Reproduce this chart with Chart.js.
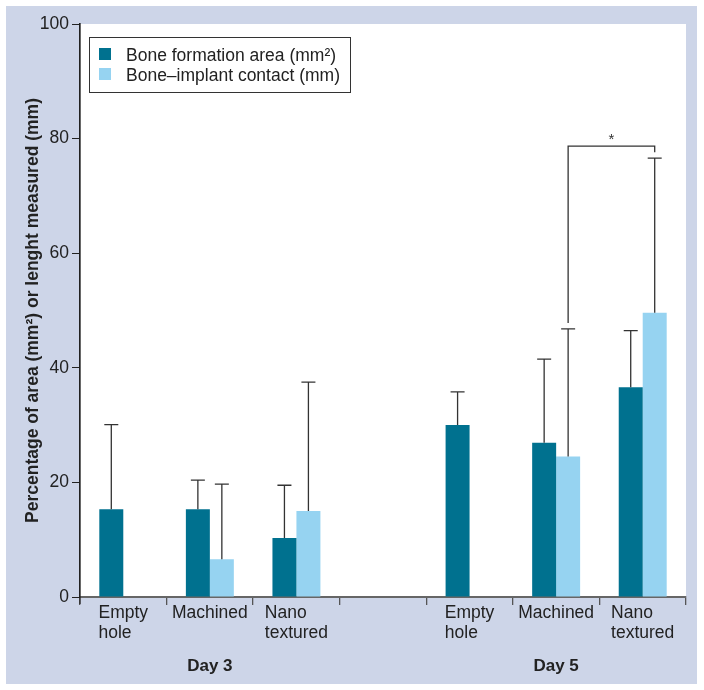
<!DOCTYPE html>
<html>
<head>
<meta charset="utf-8">
<script src="https://cdn.jsdelivr.net/npm/chart.js@4.4.1/dist/chart.umd.min.js"></script>
<style>
  html, body { margin: 0; padding: 0; background: #fff; }
  #wrap { width: 704px; height: 690px; }
</style>
</head>
<body>
<div id="wrap"><canvas id="chart" width="704" height="690"></canvas></div>
<script>
// Data
const categories = [['Empty', 'hole'], ['Machined'], ['Nano', 'textured'], [''], ['Empty', 'hole'], ['Machined'], ['Nano', 'textured']];
const dayLabels = ['Day 3', 'Day 5'];
const dayCenters = [1, 5];

const boneArea = [15.3, 15.3, 10.3, null, 30.0, 26.9, 36.6];
const boneAreaErr = [30.1, 20.4, 19.5, null, 35.8, 41.5, 46.5];
const contact = [null, 6.6, 15.0, null, null, 24.5, 49.6];
const contactErr = [null, 19.7, 37.5, null, null, 46.8, 76.6];

// significance bracket: between contact bars of these categories
const sigPair = [5, 6];
const sigLevel = 78.7;

const darkTeal = '#00718f';
const lightBlue = '#96d3f1';
const panelBg = '#cdd5e8';
const FONT = '"Liberation Sans", Arial, Helvetica, sans-serif';

// Background panel and white plot area
const backdrop = {
  id: 'backdrop',
  beforeDraw(chart) {
    const { ctx, chartArea: a } = chart;
    ctx.save();
    ctx.fillStyle = '#fff';
    ctx.fillRect(0, 0, chart.width, chart.height);
    ctx.fillStyle = panelBg;
    ctx.fillRect(6, 6, 691, 678);
    ctx.fillStyle = '#fff';
    ctx.fillRect(a.left, a.top, a.right - a.left, a.bottom - a.top);
    ctx.restore();
  }
};

// Upward error bars plus the significance bracket
const errorBars = {
  id: 'errorBars',
  afterDatasetsDraw(chart) {
    const { ctx } = chart;
    const y = chart.scales.y;
    const errs = [boneAreaErr, contactErr];
    ctx.save();
    ctx.strokeStyle = '#333';
    ctx.lineWidth = 1.3;
    errs.forEach((err, d) => {
      const meta = chart.getDatasetMeta(d);
      err.forEach((v, i) => {
        if (v == null) return;
        const bar = meta.data[i];
        const top = y.getPixelForValue(v);
        ctx.beginPath();
        ctx.moveTo(bar.x, bar.y);
        ctx.lineTo(bar.x, top);
        ctx.moveTo(bar.x - 7, top);
        ctx.lineTo(bar.x + 7, top);
        ctx.stroke();
      });
    });

    const meta = chart.getDatasetMeta(1);
    const x1 = meta.data[sigPair[0]].x;
    const x2 = meta.data[sigPair[1]].x;
    const yb = y.getPixelForValue(sigLevel);
    ctx.beginPath();
    ctx.moveTo(x1, y.getPixelForValue(contactErr[sigPair[0]] + 1));
    ctx.lineTo(x1, yb);
    ctx.lineTo(x2, yb);
    ctx.lineTo(x2, y.getPixelForValue(contactErr[sigPair[1]] + 1));
    ctx.stroke();
    ctx.fillStyle = '#333';
    ctx.font = '15px ' + FONT;
    ctx.textAlign = 'center';
    ctx.textBaseline = 'alphabetic';
    ctx.fillText('*', (x1 + x2) / 2, yb - 2);
    ctx.restore();
  }
};

// Category labels (left-aligned blocks), day labels, legend box
const decorations = {
  id: 'decorations',
  afterDraw(chart) {
    const { ctx, chartArea: a } = chart;
    const x = chart.scales.x;
    ctx.save();
    ctx.fillStyle = '#222';
    ctx.textBaseline = 'alphabetic';
    ctx.font = '17.5px ' + FONT;
    ctx.textAlign = 'left';
    categories.forEach((lines, i) => {
      const xc = x.getPixelForValue(i);
      const w = Math.max(...lines.map(l => ctx.measureText(l).width));
      lines.forEach((l, k) => ctx.fillText(l, xc - w / 2, 618 + k * 20));
    });
    ctx.font = 'bold 17px ' + FONT;
    ctx.textAlign = 'center';
    dayLabels.forEach((t, k) => ctx.fillText(t, x.getPixelForValue(dayCenters[k]), 671));

    // y-axis line running a little below zero
    ctx.strokeStyle = '#222';
    ctx.lineWidth = 1.2;
    ctx.beginPath();
    ctx.moveTo(a.left, a.top - 1);
    ctx.lineTo(a.left, a.bottom + 7);
    ctx.stroke();

    // legend
    const lx = a.left + 9, ly = a.top + 13;
    ctx.fillStyle = '#fff';
    ctx.fillRect(lx, ly, 261, 55);
    ctx.strokeStyle = '#333';
    ctx.lineWidth = 1;
    ctx.strokeRect(lx + 0.5, ly + 0.5, 261, 55);
    chart.data.datasets.forEach((ds, k) => {
      ctx.fillStyle = ds.backgroundColor;
      ctx.fillRect(lx + 10, ly + 11 + k * 20, 12, 12);
      ctx.fillStyle = '#222';
      ctx.font = '17.5px ' + FONT;
      ctx.textAlign = 'left';
      ctx.fillText(ds.label, lx + 37, ly + 24 + k * 20);
    });
    ctx.restore();
  }
};

new Chart(document.getElementById('chart').getContext('2d'), {
  type: 'bar',
  data: {
    labels: categories.map(c => c.join(' ')),
    datasets: [
      { label: 'Bone formation area (mm²)', data: boneArea, backgroundColor: darkTeal },
      { label: 'Bone–implant contact (mm)', data: contact, backgroundColor: lightBlue }
    ]
  },
  options: {
    responsive: false,
    devicePixelRatio: 1,
    animation: false,
    categoryPercentage: 0.554,
    barPercentage: 1,
    layout: { padding: { left: 0, top: 24, right: 18, bottom: 0 } },
    plugins: {
      legend: { display: false },
      tooltip: { enabled: false }
    },
    scales: {
      x: {
        afterFit: s => { s.height = 93; },
        ticks: { display: false },
        grid: { offset: true, drawOnChartArea: false, tickLength: 8, color: '#555', lineWidth: 1.3 },
        border: { color: '#666', width: 2 }
      },
      y: {
        min: 0,
        max: 100,
        afterFit: s => { s.width = 80; },
        ticks: { stepSize: 20, padding: 3, color: '#222', font: { family: FONT, size: 17.5 } },
        grid: { drawOnChartArea: false, tickLength: 8, color: '#222' },
        border: { color: '#222', width: 1.2 },
        title: {
          display: true,
          text: 'Percentage of area (mm²) or lenght measured (mm)',
          color: '#222',
          font: { family: FONT, size: 17.5, weight: 'bold', lineHeight: 1.2 },
          padding: { top: 23, bottom: 0 }
        }
      }
    }
  },
  plugins: [backdrop, errorBars, decorations]
});
</script>
</body>
</html>
